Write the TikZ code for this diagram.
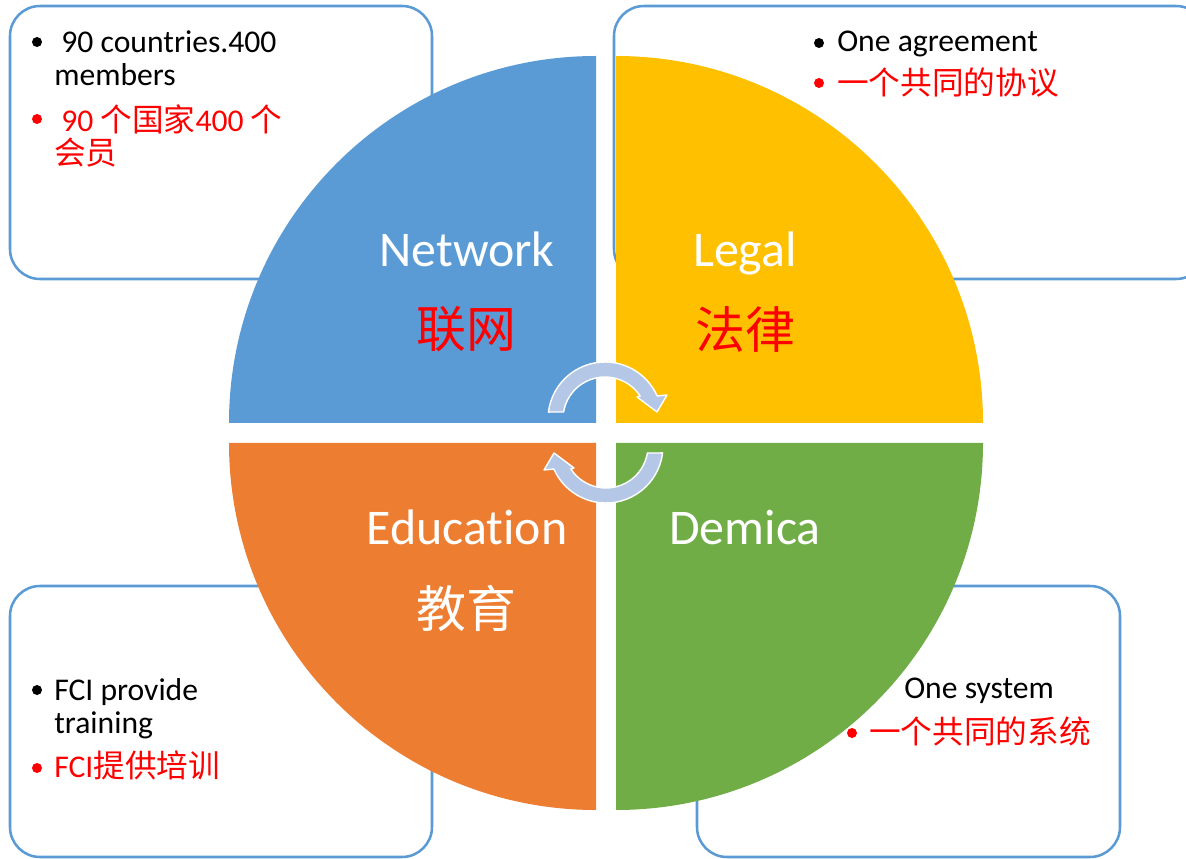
\documentclass[tikz,border=0pt]{standalone}
\usepackage{fontspec}
\setmainfont{Carlito}[Ligatures=NoCommon]
\newfontfamily\cjk{Noto Sans CJK SC}
\usetikzlibrary{calc}
\definecolor{netblue}{HTML}{5B9BD5}
\definecolor{legalgold}{HTML}{FFC000}
\definecolor{eduorange}{HTML}{ED7D31}
\definecolor{demgreen}{HTML}{70AD47}
\definecolor{arrowblue}{HTML}{B4C7E7}
\tikzset{
  infobox/.style={draw=netblue, line width=1.8pt, fill=white, rounded corners=0.75cm},
  biglabel/.style={text=white, font=\fontsize{35.5}{42}\selectfont, inner sep=0pt},
  smalltext/.style={font=\fontsize{22.5}{24}\selectfont, align=left, inner sep=0pt},
  cyclearrow/.style={fill=arrowblue, draw=white, line width=1pt, line join=round}
}
\begin{document}
\begin{tikzpicture}[x=0.025cm, y=-0.025cm]
\clip (0,0) rectangle (1186,859);
% boxes behind the circle
\draw[infobox] (10,6) rectangle (432,279);
\draw[infobox] (614,6) rectangle (1206,279);
\draw[infobox] (10,586) rectangle (432,857);
\draw[infobox] (697,586) rectangle (1120,857);
% box texts (base = last line)
\fill (37,42) circle (5);
\node[smalltext, anchor=base west] (netinfo) at (54,86) {\ 90 countries.400\\members};
\fill[red] (37,119) circle (5);
\node[smalltext, anchor=base west, text=red] (netinfocn) at (54,165) {\ 90 {\cjk 个国家}400 {\cjk 个}\\{\cjk 会员}};
\fill (819,43) circle (5);
\node[smalltext, anchor=base west] (legalinfo) at (837,52) {One agreement};
\fill[red] (819,83) circle (5);
\node[smalltext, anchor=west, text=red] (legalinfocn) at (837,82.5) {\cjk 一个共同的协议};
\fill (37,690) circle (5);
\node[smalltext, anchor=base west] (eduinfo) at (54,734) {FCI provide\\training};
\fill[red] (37,768) circle (5);
\node[smalltext, anchor=base west, text=red] (eduinfocn) at (54,777) {FCI{\cjk 提供培训}};
\node[smalltext, anchor=base west] (deminfo) at (904,699) {One system};
\fill[red] (852,733) circle (5);
\node[smalltext, anchor=west, text=red] (deminfocn) at (869,731.5) {\cjk 一个共同的系统};
% four quarters
\fill[netblue] (596,423) -- (229,423) arc[start angle=180, end angle=270, radius=367] -- cycle;
\fill[legalgold] (616,423) -- (616,56) arc[start angle=270, end angle=360, radius=367] -- cycle;
\fill[demgreen] (616,443) -- (983,443) arc[start angle=0, end angle=90, radius=367] -- cycle;
\fill[eduorange] (596,443) -- (596,810) arc[start angle=90, end angle=180, radius=367] -- cycle;
\node[biglabel, anchor=base] (net) at (467,267) {Network};
\node[biglabel, text=red] (netcn) at (466,329) {\cjk 联网};
\node[biglabel, anchor=base] (legal) at (745,267) {Legal};
\node[biglabel, text=red] (legalcn) at (745,330) {\cjk 法律};
\node[biglabel, anchor=base] (edu) at (467,545) {Education};
\node[biglabel] (educn) at (466,608) {\cjk 教育};
\node[biglabel, anchor=base] (dem) at (745,545) {Demica};
% circular arrows
\filldraw[cyclearrow] ($(605,419)+(187:57)$) arc[start angle=187, end angle=336.2, radius=57]
  -- (667,395) -- (657,412) -- (637,397)
  -- ($(605,419)+(326.8:42)$) arc[start angle=326.8, end angle=189.6, radius=42] -- cycle;
\filldraw[cyclearrow] ($(606,446)+(7:57)$) arc[start angle=7, end angle=156.2, radius=57]
  -- (544,470) -- (554,453) -- (574,468)
  -- ($(606,446)+(146.8:42)$) arc[start angle=146.8, end angle=9.6, radius=42] -- cycle;
\end{tikzpicture}
\end{document}
